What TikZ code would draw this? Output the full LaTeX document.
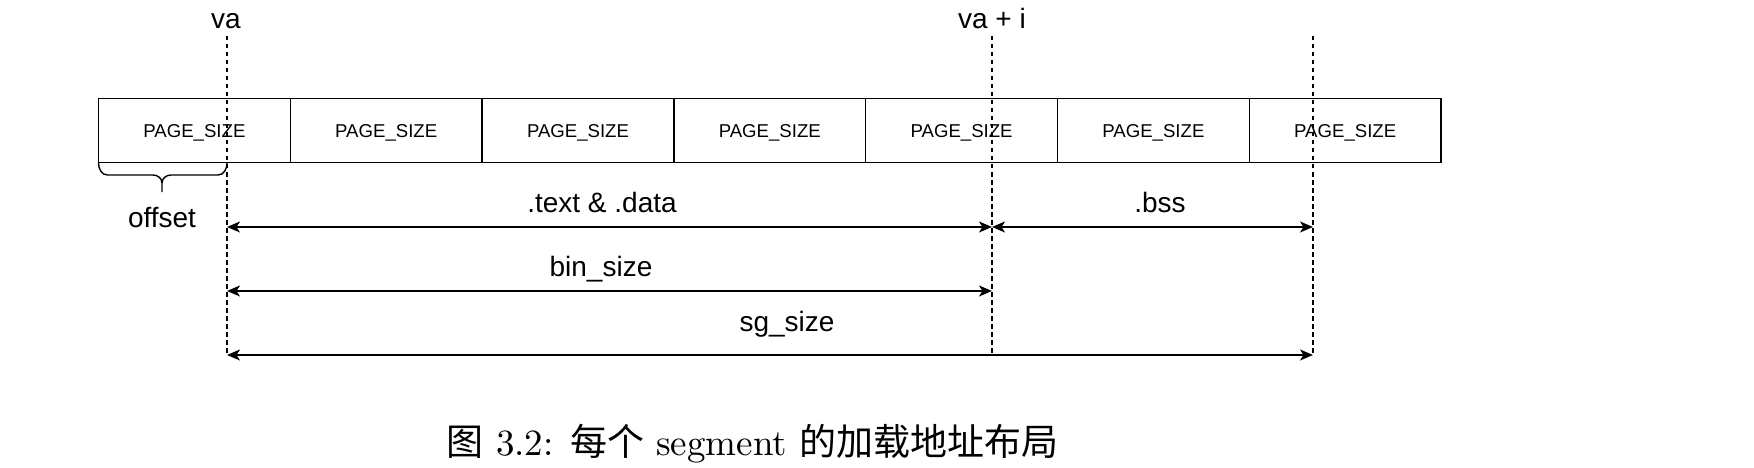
\documentclass[tikz,border=0pt]{standalone}
\usepackage{fontspec}
\newfontfamily\arial{Liberation Sans}
\newfontfamily\cjk{Noto Sans CJK SC}
\newfontfamily\lmten[Extension=.otf]{lmroman10-regular}
\usetikzlibrary{arrows.meta}
\tikzset{
  page/.style={draw=black, line width=1.4pt, minimum width=191.8pt, minimum height=64pt, inner sep=0pt, text height=13.3pt, text depth=0pt, font=\arial\fontsize{18.6}{20}\selectfont},
  guide/.style={line width=1.2pt, dash pattern=on 4.5pt off 3.5pt},
  dim/.style={line width=1.4pt, {Stealth[length=13pt,width=11pt,inset=3.5pt]}-{Stealth[length=13pt,width=11pt,inset=3.5pt]}},
  lbl/.style={anchor=base, inner sep=0pt, font=\arial\fontsize{28}{32}\selectfont},
  brace/.style={line width=1.4pt}
}
\begin{document}
\begin{tikzpicture}[x=1pt,y=-1pt]
\useasboundingbox (0,0) rectangle (1754,468);
% pages
\foreach \i in {0,...,6}{
  \node[page] (p\i) at ({98.5+95.9+191.8*\i},130.8) {PAGE\_SIZE};
}
% guide coordinates
\coordinate (vaT) at (227,36);
\coordinate (vaB) at (227,355);
\coordinate (viT) at (992,36);
\coordinate (viB) at (992,355);
\coordinate (enT) at (1313,36);
\coordinate (enB) at (1313,355);
\draw[guide] (vaT) -- (vaB);
\draw[guide] (viT) -- (viB);
\draw[guide] (enT) -- (enB);
% labels
\node[lbl] (va) at (226,29) {va};
\node[lbl] (vai) at (992,29) {va + i};
\node[lbl] (td) at (602,212) {.text \& .data};
\node[lbl] (bss) at (1160,212) {.bss};
\node[lbl] (bin) at (601,276) {bin\_size};
\node[lbl] (sg) at (787,331) {sg\_size};
\node[lbl] (off) at (162,227) {offset};
% dimension arrows
\coordinate (a1) at (227,227);
\coordinate (a2) at (992,227);
\coordinate (a3) at (1313,227);
\coordinate (b1) at (227,291);
\coordinate (b2) at (992,291);
\coordinate (c1) at (227,355);
\coordinate (c2) at (1313,355);
\draw[dim] (a1) -- (a2);
\draw[dim] (a2) -- (a3);
\draw[dim] (b1) -- (b2);
\draw[dim] (c1) -- (c2);
% brace
\coordinate (brL) at (98.5,163);
\coordinate (brR) at (227,163);
\draw[brace] (brL) to[out=-90,in=180] (107.5,175) -- (153,175) to[out=0,in=90] (162,183) -- (162,192);
\draw[brace] (162,183) to[out=90,in=180] (171,175) -- (218,175) to[out=0,in=-90] (brR);
% caption
\node[anchor=base, inner sep=0pt, font=\lmten\fontsize{37}{40}\selectfont] (cap) at (752.5,455) {{\cjk 图} 3.2: {\cjk 每个} segment {\cjk 的加载地址布局}};
\end{tikzpicture}
\end{document}
